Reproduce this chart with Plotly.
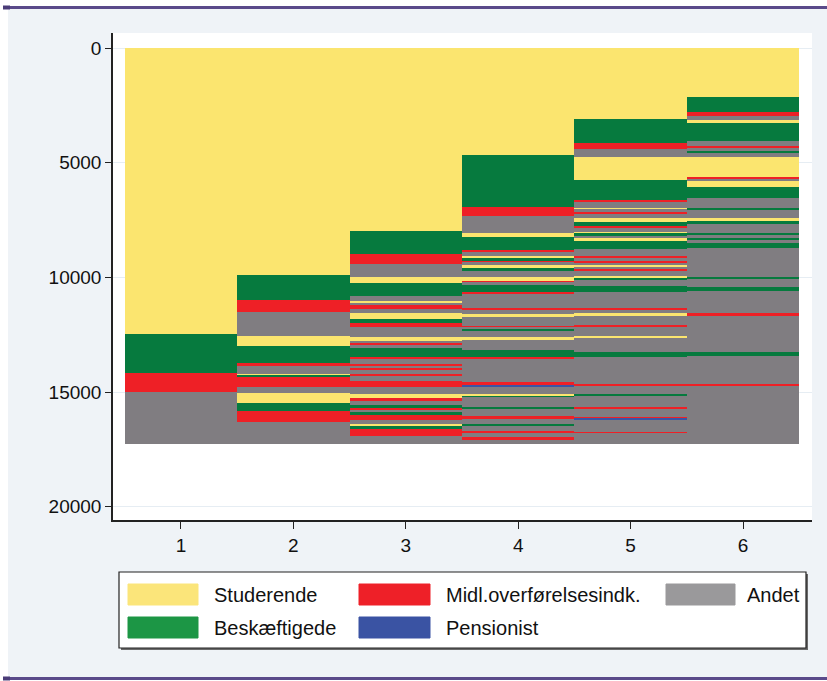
import plotly.graph_objects as go

# ---------------- data ----------------
state_names = {"S": "Studerende", "B": "Beskæftigede", "M": "Midl.overførelsesindk.",
               "P": "Pensionist", "A": "Andet"}
state_order = ["S", "B", "M", "P", "A"]
bar_colors = {"S": "#FBE56F", "B": "#067A3E", "M": "#EE2026", "P": "#3A55A5", "A": "#807D81"}
legend_colors = {"S": "#FBE57A", "B": "#1C9645", "M": "#EE2028", "P": "#3A53A3", "A": "#9A999B"}

periods = [1, 2, 3, 4, 5, 6]
y_ticks = [0, 5000, 10000, 15000, 20000]

# states of each sequence block (top to bottom) and the cumulative row count where it ends
col1_states = ["S", "B", "M", "A"]
col1_ends = [12450, 14150, 14975, 17250]

col2_states = ["S", "B", "M", "A", "S", "B", "M", "A", "S", "B", "M", "A", "S", "B", "M", "A"]
col2_ends = [9890, 10965, 11490, 12535, 12970, 13735, 13865, 14190, 14255, 14345, 14790,
             15050, 15485, 15805, 16315, 17250]

col3_states = ["S", "B", "M", "A", "S", "B", "A", "S", "A", "M", "A", "S", "B", "M", "A", "S",
               "A", "M", "A", "B", "M", "A", "M", "A", "M", "A", "M", "A", "M", "A", "S", "M",
               "A", "B", "M", "A", "B", "M", "A", "S", "B", "M", "A"]
col3_ends = [7960, 8970, 9395, 9985, 10240, 10825, 11050, 11125, 11185, 11370, 11565, 11805,
             11980, 12145, 12580, 12785, 12840, 12950, 13080, 13495, 13550, 13770, 13865,
             13960, 14040, 14205, 14315, 14495, 14790, 15075, 15295, 15370, 15550, 15720,
             15805, 15870, 16000, 16220, 16385, 16460, 16625, 16895, 17250]

col4_states = ["S", "B", "M", "A", "S", "B", "M", "A", "S", "B", "M", "A", "S", "B", "A", "S",
               "M", "A", "B", "M", "A", "M", "A", "S", "A", "M", "A", "B", "A", "S", "A", "B",
               "M", "A", "M", "P", "A", "S", "B", "A", "B", "A", "M", "A", "B", "A", "M", "A",
               "M", "A"]
col4_ends = [4655, 6910, 7305, 8055, 8250, 8830, 8905, 9045, 9135, 9265, 9365, 9450, 9570,
             9715, 9995, 10135, 10240, 10325, 10645, 10735, 11325, 11400, 11590, 11735, 12100,
             12175, 12215, 12315, 12610, 12720, 13145, 13480, 13550, 14540, 14685, 14780,
             15075, 15180, 15225, 15630, 15730, 16055, 16165, 16385, 16490, 16710, 16795,
             16970, 17070, 17250]

col5_states = ["S", "B", "M", "A", "S", "B", "M", "A", "S", "A", "M", "A", "S", "B", "M", "A",
               "S", "B", "A", "S", "B", "A", "M", "A", "M", "A", "S", "A", "M", "A", "S", "B",
               "A", "B", "A", "M", "A", "S", "A", "M", "A", "S", "A", "B", "A", "M", "A", "B",
               "A", "M", "A", "M", "P", "A", "M", "A"]
col5_ends = [3075, 4150, 4395, 4730, 5745, 6650, 6725, 6965, 7055, 7130, 7230, 7405, 7565,
             7740, 7840, 8030, 8100, 8175, 8275, 8395, 8755, 9045, 9145, 9295, 9385, 9450,
             9555, 9625, 9700, 9950, 10035, 10105, 10385, 10615, 11325, 11415, 11565, 11665,
             12055, 12145, 12550, 12645, 13235, 13480, 14630, 14715, 15075, 15150, 15660,
             15730, 16105, 16160, 16200, 16720, 16800, 17250]

col6_states = ["S", "B", "M", "A", "S", "B", "A", "M", "A", "B", "A", "S", "M", "A", "S", "B",
               "A", "B", "A", "S", "B", "A", "B", "A", "B", "A", "B", "A", "B", "A", "B", "A",
               "M", "A", "B", "A", "M", "A"]
col6_ends = [2115, 2800, 2985, 3130, 3280, 4035, 4250, 4350, 4470, 4565, 4730, 5605, 5710,
             5810, 6060, 6540, 6965, 7055, 7405, 7550, 7665, 8065, 8140, 8285, 8370, 8500,
             8710, 9985, 10070, 10400, 10575, 11565, 11665, 13245, 13430, 14640, 14730, 17250]

columns = [(col1_states, col1_ends), (col2_states, col2_ends), (col3_states, col3_ends),
           (col4_states, col4_ends), (col5_states, col5_ends), (col6_states, col6_ends)]

# legend layout: rows of state codes
legend_rows = [["S", "M", "A"], ["B", "P"]]

# ---------------- build segments ----------------
seg = {k: {"x": [], "base": [], "h": []} for k in state_order}
for period, (sts, ends) in zip(periods, columns):
    start = 0
    for s, e in zip(sts, ends):
        seg[s]["x"].append(period)
        seg[s]["base"].append(start)
        seg[s]["h"].append(e - start)
        start = e

fig = go.Figure()
for k in state_order:
    if not seg[k]["x"]:
        continue
    fig.add_trace(go.Bar(
        x=seg[k]["x"], y=seg[k]["h"], base=seg[k]["base"], width=1.0,
        marker=dict(color=bar_colors[k], line=dict(width=0)),
        name=state_names[k], showlegend=False))

# ---------------- layout ----------------
W, H = 827, 681
PL, PR, PT, PB = 113, 812, 33, 520


def px2x(px):
    return (px - PL) / (PR - PL)


def px2y(py):
    return (PB - py) / (PB - PT)


shapes = []
annotations = []
# white outer strips and purple rules
shapes.append(dict(type="rect", xref="paper", yref="paper", x0=px2x(0), x1=px2x(W),
                   y0=px2y(0), y1=px2y(7), fillcolor="white", line_width=0, layer="above"))
shapes.append(dict(type="rect", xref="paper", yref="paper", x0=px2x(0), x1=px2x(8),
                   y0=px2y(0), y1=px2y(H), fillcolor="white", line_width=0, layer="above"))
shapes.append(dict(type="rect", xref="paper", yref="paper", x0=px2x(0), x1=px2x(W),
                   y0=px2y(679), y1=px2y(H), fillcolor="white", line_width=0, layer="above"))
for yy in (7.5, 678.5):
    shapes.append(dict(type="line", xref="paper", yref="paper", x0=px2x(3), x1=px2x(W),
                       y0=px2y(yy), y1=px2y(yy), line=dict(color="#5A4A8A", width=3),
                       layer="above"))
    shapes.append(dict(type="line", xref="paper", yref="paper", x0=px2x(3), x1=px2x(10),
                       y0=px2y(yy), y1=px2y(yy), line=dict(color="#4A3C78", width=4),
                       layer="above"))

# legend box with shadow
shapes.append(dict(type="rect", xref="paper", yref="paper", x0=px2x(121), x1=px2x(808),
                   y0=px2y(650), y1=px2y(574), fillcolor="#6a6a6a", line_width=0, layer="above"))
shapes.append(dict(type="rect", xref="paper", yref="paper", x0=px2x(119), x1=px2x(806),
                   y0=px2y(648), y1=px2y(572), fillcolor="white",
                   line=dict(color="#222222", width=1.2), layer="above"))

sw_x = [(128, 198, 212), (359, 430, 444), (666, 735, 745)]
sw_y = [(584, 605), (617, 638)]
for r, row in enumerate(legend_rows):
    for c, code in enumerate(row):
        x0, x1, tx = sw_x[c]
        y0, y1 = sw_y[r]
        shapes.append(dict(type="rect", xref="paper", yref="paper", x0=px2x(x0), x1=px2x(x1),
                           y0=px2y(y1), y1=px2y(y0), fillcolor=legend_colors[code],
                           line=dict(color=legend_colors[code], width=1), layer="above"))
        annotations.append(dict(xref="paper", yref="paper", x=px2x(tx), y=px2y((y0 + y1) / 2),
                                text=state_names[code], showarrow=False, xanchor="left",
                                yanchor="middle",
                                font=dict(family="Liberation Sans, Arial", size=20,
                                          color="#111111")))

fig.update_layout(
    width=W, height=H, autosize=False,
    margin=dict(l=PL, r=W - PR, t=PT, b=H - PB, pad=0),
    paper_bgcolor="#EFF3F7", plot_bgcolor="white",
    barmode="overlay", bargap=0,
    showlegend=False,
    shapes=shapes, annotations=annotations,
    font=dict(family="Liberation Sans, Arial", size=19, color="#111111"),
)
fig.update_xaxes(range=[0.3953, 6.6136], tickvals=periods, ticktext=[str(p) for p in periods],
                 showgrid=False, zeroline=False, showline=True, linecolor="#222222",
                 linewidth=1.5, ticks="outside", ticklen=7, tickwidth=1.3, tickcolor="#222222",
                 tickfont=dict(size=19))
fig.update_yaxes(range=[20575, -654], tickvals=y_ticks, ticktext=[str(v) for v in y_ticks],
                 showgrid=True, gridcolor="#E6EDF3", gridwidth=1, zeroline=False,
                 showline=True, linecolor="#222222", linewidth=1.5, ticks="outside",
                 ticklen=6, tickwidth=1.3, tickcolor="#222222", tickfont=dict(size=19))

fig.write_html("out.html", config={"displayModeBar": False},
               post_script="document.body.style.margin='0px';"
                           "document.body.style.overflow='hidden';")
